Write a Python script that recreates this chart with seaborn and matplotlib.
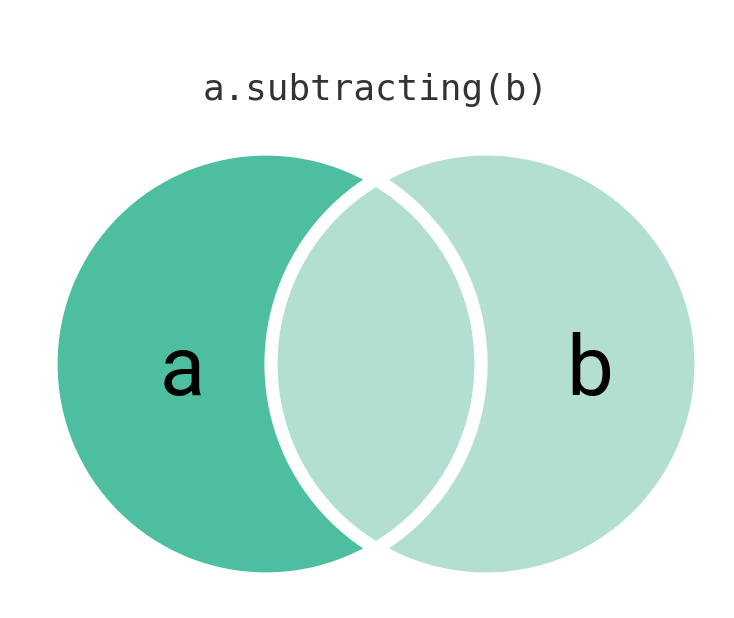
"""Venn diagram for a.subtracting(b)."""
import matplotlib

matplotlib.use("Agg")
import matplotlib.pyplot as plt
import seaborn as sns
from matplotlib.patches import Circle

# sets shown in the diagram
set_names = ["a", "b"]
title_text = "a.subtracting(b)"

# kept set vs removed set
fill_colors = ["#4DBFA0", "#B3DFD3"]

sns.set_theme(style="white")
plt.rcParams["font.family"] = ["Roboto", "DejaVu Sans"]

fig = plt.figure(figsize=(7.34, 6.18), dpi=100)
ax = fig.add_axes([0, 0, 1, 1])
ax.set_xlim(0, 734)
ax.set_ylim(618, 0)
ax.set_aspect("equal")
ax.axis("off")

centers = [(266, 364), (486, 364)]
radius = 215

for (cx, cy), color in zip(centers, fill_colors):
    ax.add_patch(Circle((cx, cy), radius, facecolor=color, edgecolor="none", zorder=1))

for cx, cy in centers:
    ax.add_patch(Circle((cx, cy), radius, facecolor="none", edgecolor="white", lw=9.5, zorder=2))

label_x = [182, 590]
for name, x in zip(set_names, label_x):
    ax.text(x, 395, name, ha="center", va="baseline", fontsize=60, color="black", zorder=3)

ax.text(376, 100, title_text, ha="center", va="baseline", fontsize=25.8,
        family="DejaVu Sans Mono", color="#333333")

fig.savefig("out.png", dpi=100, facecolor="white")
